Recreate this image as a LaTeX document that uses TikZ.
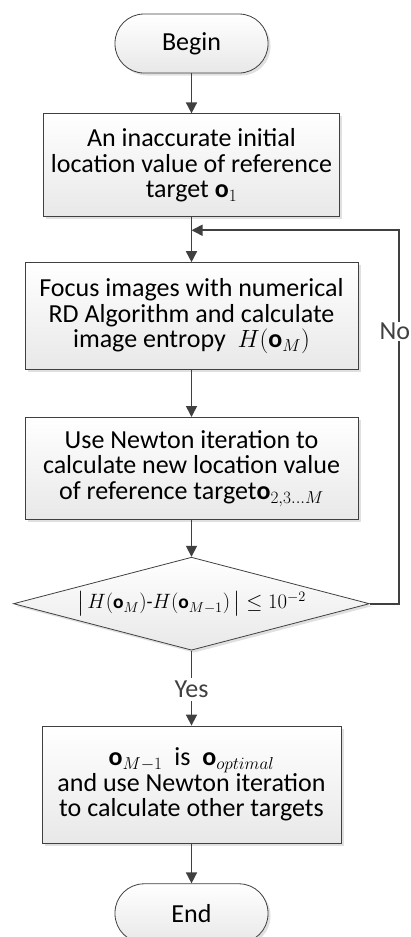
\documentclass[tikz,border=0pt]{standalone}
\usepackage{amsmath}
\usepackage{fontspec}
\setmainfont{Carlito}
\usetikzlibrary{positioning,arrows.meta,shapes.geometric,shadows,calc}

\definecolor{linegray}{HTML}{404040}

\begin{document}
\begin{tikzpicture}[
  x=1pt, y=1pt,
  >={Triangle[length=11pt,width=11pt]},
  font=\fontsize{26}{25.5}\selectfont,
  every node/.style={align=center},
  boxed/.style={draw=linegray, line width=0.8pt, top color=white, bottom color=black!9,
    drop shadow={shadow xshift=2.5pt, shadow yshift=-2.5pt, fill=black!12, opacity=1},
    inner sep=2pt},
  terminal/.style={boxed, rounded corners=29pt, minimum width=153pt, minimum height=59pt},
  process/.style={boxed, minimum width=333pt},
  decision/.style={boxed, diamond, aspect=3.8, minimum width=356pt, minimum height=93pt, inner sep=0pt},
  flow/.style={draw=linegray, line width=1.6pt, ->, color=linegray}
]
  \useasboundingbox (0,0) rectangle (410,-937);

  \node[terminal] (begin) at (191.5,-43.5) {Begin};
  \node[process, minimum width=296pt, minimum height=103pt, below=40pt of begin] (init)
    {An inaccurate initial\\location value of reference\\target $\mathbf{o}_1$};
  \node[process, minimum height=107pt, below=45pt of init] (focus)
    {Focus images with numerical\\RD Algorithm and calculate\\image entropy \ $H(\mathbf{o}_M)$};
  \node[process, minimum height=102pt, below=47pt of focus] (newton)
    {Use Newton iteration to\\calculate new location value\\of reference target$\mathbf{o}_{2,3\ldots M}$};
  \node[decision, below=37pt of newton, font=\fontsize{19.5}{24}\selectfont] (check)
    {$\bigl|\,H(\mathbf{o}_M)\text{-}H(\mathbf{o}_{M-1})\,\bigr|\le 10^{-2}$};
  \node[process, minimum width=299pt, minimum height=117pt, below=75pt of check] (optimal)
    {$\mathbf{o}_{M-1}$ \ is \ $\mathbf{o}_{optimal}$\\and use Newton iteration\\to calculate other targets};
  \node[terminal, below=40pt of optimal] (end) {End};

  \coordinate (merge) at ($(init.south)!0.29!(focus.north)$);

  \draw[flow] (begin) -- (init);
  \draw[flow] (init) -- (focus);
  \draw[flow] (focus) -- (newton);
  \draw[flow] (newton) -- (check);
  \draw[flow] (check) -- node[fill=white, inner sep=3pt, pos=0.52] {Yes} (optimal);
  \draw[flow] (optimal) -- (end);
  \draw[flow] (check.east) -- ++(29,0) |- node[pos=0.365, fill=white, inner sep=1pt, xshift=-4pt] {No} (merge);
\end{tikzpicture}
\end{document}
